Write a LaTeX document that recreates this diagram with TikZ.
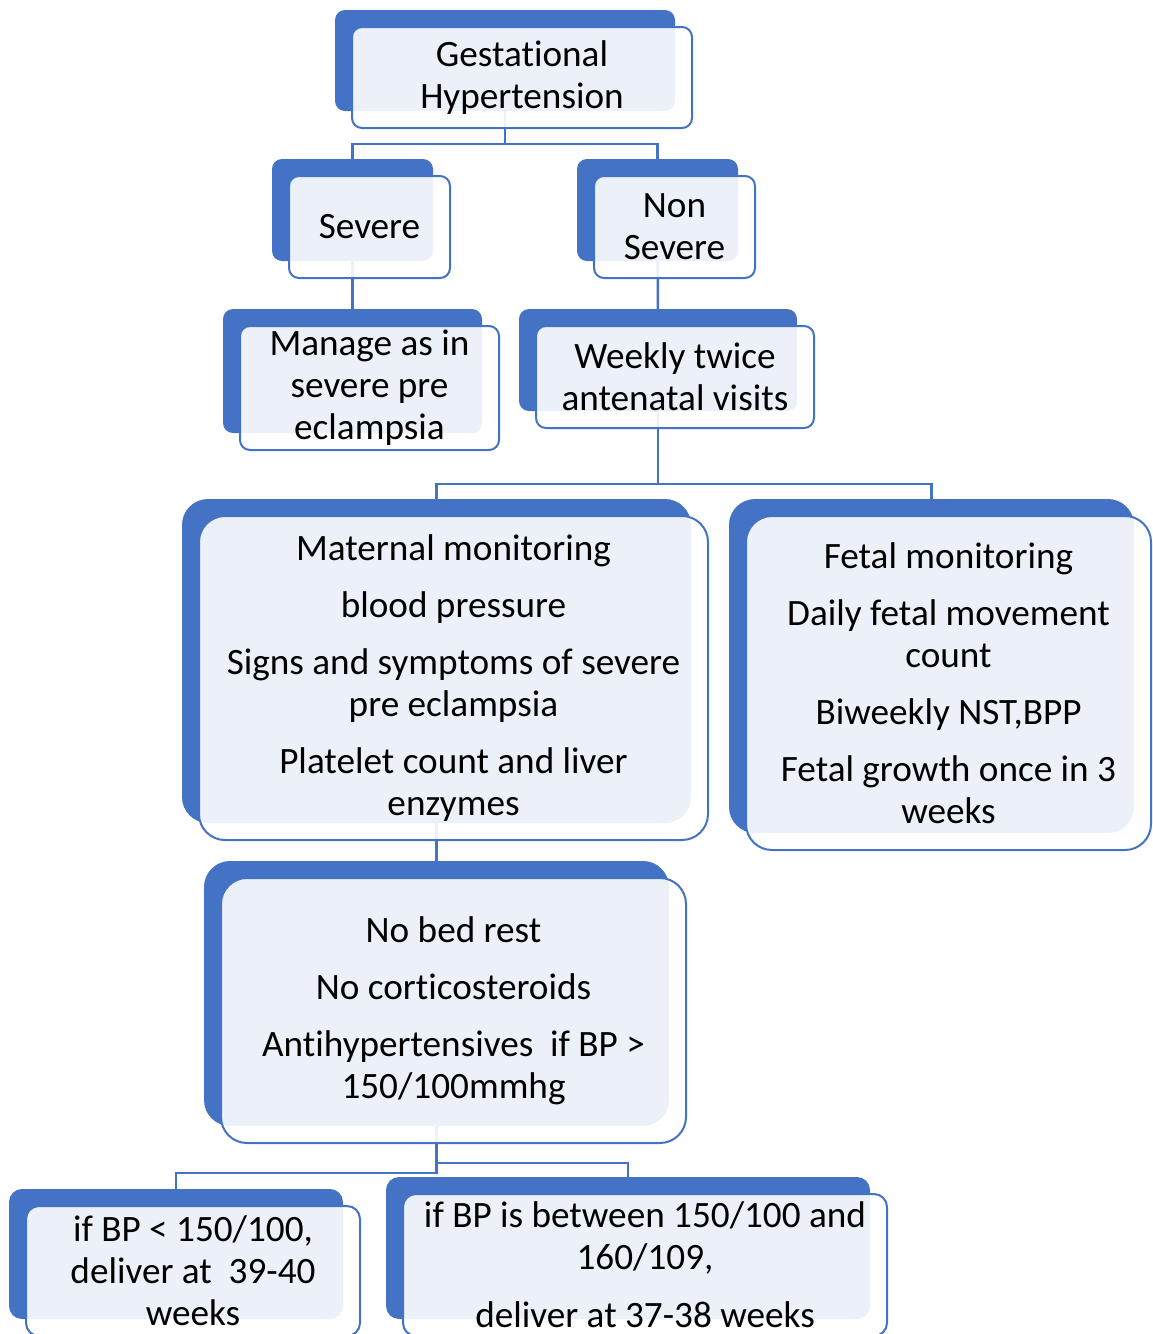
\documentclass[tikz,border=0pt]{standalone}
\usepackage{fontspec}
\setmainfont{Carlito}[Ligatures={NoCommon,NoRare,NoContextual}]
\usepackage{xcolor}
\usetikzlibrary{shadows, backgrounds, positioning}

\definecolor{boxblue}{HTML}{4472C4}
\definecolor{linkblue}{HTML}{4472C4}

\begin{document}
\begin{tikzpicture}[
  x=1pt, y=-1pt,
  box/.style={rectangle, draw=boxblue, line width=2pt, rounded corners=10pt,
             fill=white, fill opacity=0.9, text opacity=1, align=center,
             inner sep=0pt, font=\fontsize{37.2}{42}\selectfont,
             general shadow={fill=boxblue, fill opacity=1, draw=none,
                             shadow xshift=-17pt, shadow yshift=17pt}},
  bigbox/.style={box, rounded corners=26pt},
  lowbox/.style={box, rounded corners=13pt},
  link/.style={draw=linkblue, line width=2.5pt}
]
\useasboundingbox (0,0) rectangle (1152,1334);
\clip (0,0) rectangle (1152,1334);

\node[box, minimum width=340pt, minimum height=101pt] (gh) at (522,77.5) {Gestational\\Hypertension};
\node[box, minimum width=161pt, minimum height=102pt] (sev) at (369.5,227) {Severe};
\node[box, minimum width=161pt, minimum height=102pt] (nonsev) at (674.5,227) {Non\\Severe};
\node[box, minimum width=259pt, minimum height=124pt] (man) at (369.5,388) {Manage as in\\severe pre\\eclampsia};
\node[box, minimum width=278pt, minimum height=102pt] (weekly) at (675,377) {Weekly twice\\antenatal visits};
\node[bigbox, minimum width=509pt, minimum height=324pt] (mat) at (453.5,678) {%
  Maternal monitoring\\[15pt]
  blood pressure\\[15pt]
  Signs and symptoms of severe\\pre eclampsia\\[15pt]
  Platelet count and liver\\enzymes};
\node[bigbox, minimum width=405pt, minimum height=334pt] (fet) at (948.5,683) {%
  Fetal monitoring\\[15pt]
  Daily fetal movement\\count\\[15pt]
  Biweekly NST,BPP\\[15pt]
  Fetal growth once in 3\\weeks};
\node[bigbox, minimum width=465pt, minimum height=265pt] (nobed) at (453.5,1010.5) {%
  No bed rest\\[15pt]
  No corticosteroids\\[15pt]
  Antihypertensives~ if BP >\\150/100mmhg};
\node[lowbox, minimum width=334pt, minimum height=130pt] (lowbp) at (193,1271) {if BP < 150/100,\\deliver at~~39-40\\weeks};
\node[lowbox, minimum width=484pt, minimum height=142pt] (midbp) at (645,1265) {%
  if BP is between 150/100 and\\160/109,\\[16pt]
  deliver at 37-38 weeks};

\begin{scope}[on background layer]
\draw[link] ([xshift=-17pt]gh.center) -- ([xshift=-17pt,yshift=-15pt]gh.south) -| ([xshift=-17pt]sev.north);
\draw[link] ([xshift=-17pt,yshift=-15pt]gh.south) -| ([xshift=-17pt]nonsev.north);
\draw[link] ([xshift=-17pt]sev.center) -- ([xshift=-17pt]man.north);
\draw[link] ([xshift=-17pt]nonsev.center) -- ([xshift=-17pt]weekly.north);
\draw[link] ([xshift=-17pt]weekly.center) -- ([xshift=-17pt,yshift=-55pt]weekly.south) -| ([xshift=-17pt]mat.north);
\draw[link] ([xshift=-17pt,yshift=-55pt]weekly.south) -| ([xshift=-17pt]fet.north);
\draw[link] ([xshift=-17pt]mat.center) -- ([xshift=-17pt]nobed.north);
\draw[link] ([xshift=-17pt]nobed.center) -- ([xshift=-17pt,yshift=-29pt]nobed.south) -| ([xshift=-17pt]lowbp.north);
\draw[link] ([xshift=-17pt,yshift=-19pt]nobed.south) -| ([xshift=-17pt]midbp.north);
\end{scope}
\end{tikzpicture}
\end{document}
